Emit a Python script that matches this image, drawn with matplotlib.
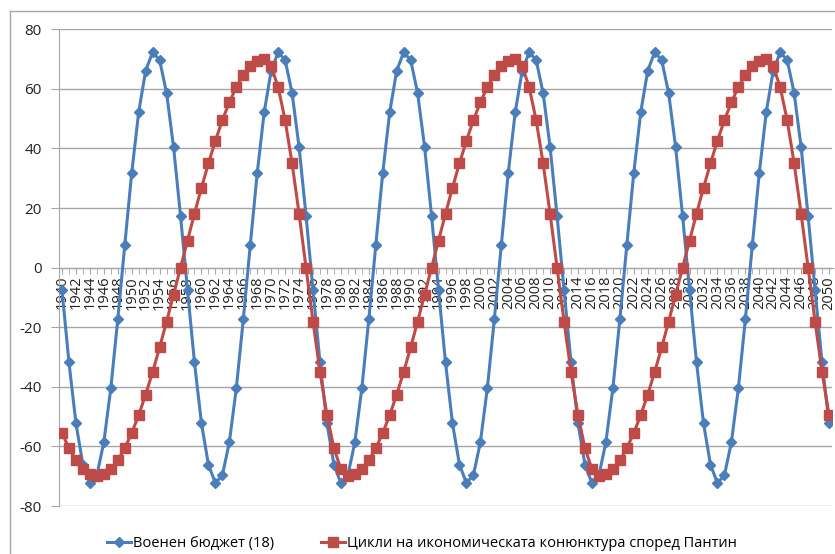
import matplotlib
matplotlib.use("Agg")
import matplotlib.pyplot as plt
from matplotlib.lines import Line2D

plt.rcParams['font.family'] = ['Open Sans', 'Noto Sans', 'DejaVu Sans']
plt.rcParams['axes.unicode_minus'] = False

years = list(range(1940, 2051))

# Военен бюджет (18), one value per year 1940..2050
military = [
    -7.5, -31.8, -52.2, -66.1, -72.3, -69.7, -58.6, -40.5, -17.4,
    7.5, 31.8, 52.2, 66.1, 72.3, 69.7, 58.6, 40.5, 17.4,
    -7.5, -31.8, -52.2, -66.1, -72.3, -69.7, -58.6, -40.5, -17.4,
    7.5, 31.8, 52.2, 66.1, 72.3, 69.7, 58.6, 40.5, 17.4,
    -7.5, -31.8, -52.2, -66.1, -72.3, -69.7, -58.6, -40.5, -17.4,
    7.5, 31.8, 52.2, 66.1, 72.3, 69.7, 58.6, 40.5, 17.4,
    -7.5, -31.8, -52.2, -66.1, -72.3, -69.7, -58.6, -40.5, -17.4,
    7.5, 31.8, 52.2, 66.1, 72.3, 69.7, 58.6, 40.5, 17.4,
    -7.5, -31.8, -52.2, -66.1, -72.3, -69.7, -58.6, -40.5, -17.4,
    7.5, 31.8, 52.2, 66.1, 72.3, 69.7, 58.6, 40.5, 17.4,
    -7.5, -31.8, -52.2, -66.1, -72.3, -69.7, -58.6, -40.5, -17.4,
    7.5, 31.8, 52.2, 66.1, 72.3, 69.7, 58.6, 40.5, 17.4,
    -7.5, -31.8, -52.2,
]

# Цикли на икономическата конюнктура според Пантин, 1940..2050
pantin = [
    -55.5, -60.6, -64.7, -67.6, -69.4, -70.0,
    -69.4, -67.6, -64.7, -60.6, -55.5, -49.5, -42.6, -35.0, -26.8, -18.1, -9.1, 0.0,
    9.1, 18.1, 26.8, 35.0, 42.6, 49.5, 55.5, 60.6, 64.7, 67.6, 69.4, 70.0,
    67.6, 60.6, 49.5, 35.0, 18.1, 0.0, -18.1, -35.0, -49.5, -60.6, -67.6, -70.0,
    -69.4, -67.6, -64.7, -60.6, -55.5, -49.5, -42.6, -35.0, -26.8, -18.1, -9.1, 0.0,
    9.1, 18.1, 26.8, 35.0, 42.6, 49.5, 55.5, 60.6, 64.7, 67.6, 69.4, 70.0,
    67.6, 60.6, 49.5, 35.0, 18.1, 0.0, -18.1, -35.0, -49.5, -60.6, -67.6, -70.0,
    -69.4, -67.6, -64.7, -60.6, -55.5, -49.5, -42.6, -35.0, -26.8, -18.1, -9.1, 0.0,
    9.1, 18.1, 26.8, 35.0, 42.6, 49.5, 55.5, 60.6, 64.7, 67.6, 69.4, 70.0,
    67.6, 60.6, 49.5, 35.0, 18.1, 0.0, -18.1, -35.0, -49.5,
]

labels = ["Военен бюджет (18)", "Цикли на икономическата конюнктура според Пантин"]

W, H = 835, 554
fig = plt.figure(figsize=(W / 100, H / 100), dpi=100)
ax = fig.add_axes([58.5 / W, (H - 506) / H, 774 / W, (506 - 29.3) / H])

ax.plot(years, military, color="#4A7EBB", lw=2.2, marker="D", ms=5.5,
        mfc="#4A7EBB", mec="#4A7EBB", label=labels[0], zorder=3)
ax.plot(years, pantin, color="#BE4B48", lw=2.2, marker="s", ms=6.5,
        mfc="#BE4B48", mec="#BE4B48", label=labels[1], zorder=3)

ax.set_xlim(1939.5, 2050.5)
ax.set_ylim(-80, 80)
ax.set_yticks(range(-80, 81, 20))
ax.yaxis.grid(True, color="#A6A6A6", lw=1.0)
ax.set_axisbelow(True)
ax.tick_params(axis="y", length=6, color="#A6A6A6", labelsize=11, pad=6,
               labelcolor="#222222")

ax.spines["bottom"].set_position(("data", 0))
for s in ("top", "right"):
    ax.spines[s].set_visible(False)
for s in ("left", "bottom"):
    ax.spines[s].set_color("#A6A6A6")
ax.set_xticks(years[::2])
ax.set_xticklabels([str(y) for y in years[::2]], rotation=90, fontsize=10.5,
                   color="#222222")
ax.set_xticks(years, minor=True)
ax.tick_params(axis="x", which="both", length=4, color="#A6A6A6", pad=2)

ax.legend(loc="upper center", bbox_to_anchor=(0.47, -0.035), ncol=2,
          frameon=False, fontsize=10.5, handlelength=1.6, columnspacing=3.2,
          handletextpad=0.2)

# outer chart frame
fig.add_artist(Line2D([10 / W, 10 / W], [0, 1 - 11 / H], color="#A6A6A6",
                      lw=1, transform=fig.transFigure))
fig.add_artist(Line2D([10 / W, 1], [1 - 11 / H, 1 - 11 / H], color="#A6A6A6",
                      lw=1, transform=fig.transFigure))

fig.savefig("out.png", dpi=100, facecolor="white")
